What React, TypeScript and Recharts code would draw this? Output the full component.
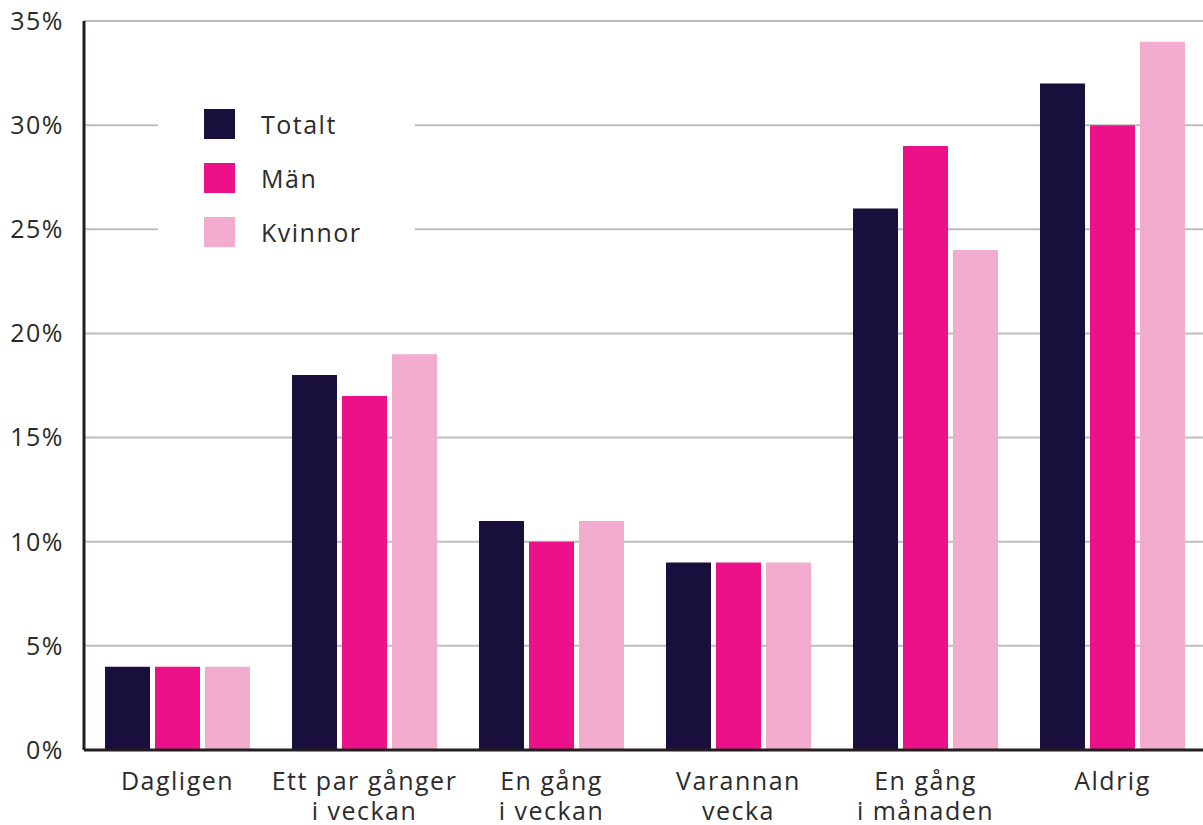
import { Bar, BarChart, CartesianGrid, Legend, XAxis, YAxis } from "recharts";

const categories = [
  "Dagligen",
  "Ett par gånger\ni veckan",
  "En gång\ni veckan",
  "Varannan\nvecka",
  "En gång\ni månaden",
  "Aldrig",
];
const totalt = [4, 18, 11, 9, 26, 32];
const man = [4, 17, 10, 9, 29, 30];
const kvinnor = [4, 19, 11, 9, 24, 34];
const yTicks = [0, 5, 10, 15, 20, 25, 30, 35];

const series = [
  { key: "totalt", name: "Totalt", color: "#180f3d" },
  { key: "man", name: "Män", color: "#ec1089" },
  { key: "kvinnor", name: "Kvinnor", color: "#f2acce" },
];

const data = categories.map((c, i) => ({
  category: c,
  totalt: totalt[i],
  man: man[i],
  kvinnor: kvinnor[i],
}));

const FONT = "'Open Sans', sans-serif";
const TEXT = "#2b2b2b";

function CategoryTick(props: any) {
  const { x, y, payload } = props;
  const lines = String(payload.value).split("\n");
  return (
    <text x={x} y={y} textAnchor="middle" fontFamily={FONT} fontSize={25} letterSpacing={1.5} fill={TEXT}>
      {lines.map((l, i) => (
        <tspan key={i} x={x} y={y + 32 + i * 30}>
          {l}
        </tspan>
      ))}
    </text>
  );
}

function LegendBox() {
  return (
    <div style={{ background: "#fff", width: 257, height: 165, position: "relative", fontFamily: FONT }}>
      {series.map((s, i) => (
        <div
          key={s.key}
          style={{ position: "absolute", left: 46, top: 14 + i * 54, display: "flex", alignItems: "center" }}
        >
          <div style={{ width: 31, height: 30, background: s.color }} />
          <span style={{ marginLeft: 26, fontSize: 25, letterSpacing: 1.5, color: TEXT, lineHeight: "30px" }}>
            {s.name}
          </span>
        </div>
      ))}
    </div>
  );
}

export default function App() {
  return (
    <div style={{ position: "absolute", left: 0, top: 0, width: 1203, height: 825, overflow: "hidden", background: "#fff" }}>
      <BarChart
        width={1206}
        height={825}
        data={data}
        margin={{ top: 21, right: 0, bottom: 0, left: 0 }}
        barSize={45}
        barGap={5}
      >
        <CartesianGrid vertical={false} stroke="#bdbdbd" strokeWidth={2} />
        <XAxis
          dataKey="category"
          height={75}
          interval={0}
          tickLine={false}
          axisLine={{ stroke: "#231f20", strokeWidth: 3 }}
          tick={<CategoryTick />}
        />
        <YAxis
          width={84}
          domain={[0, 35]}
          ticks={yTicks}
          interval={0}
          tickLine={false}
          tickSize={0}
          tickMargin={20}
          tickFormatter={(v) => `${v}%`}
          axisLine={{ stroke: "#231f20", strokeWidth: 3 }}
          tick={{ fontFamily: FONT, fontSize: 25, letterSpacing: 1.5, fill: TEXT }}
        />
        <Legend
          layout="vertical"
          align="center"
          verticalAlign="middle"
          content={<LegendBox />}
          wrapperStyle={{ left: 158, top: 95, width: 257, height: 165 }}
        />
        {series.map((s) => (
          <Bar key={s.key} dataKey={s.key} name={s.name} fill={s.color} isAnimationActive={false} />
        ))}
      </BarChart>
    </div>
  );
}
